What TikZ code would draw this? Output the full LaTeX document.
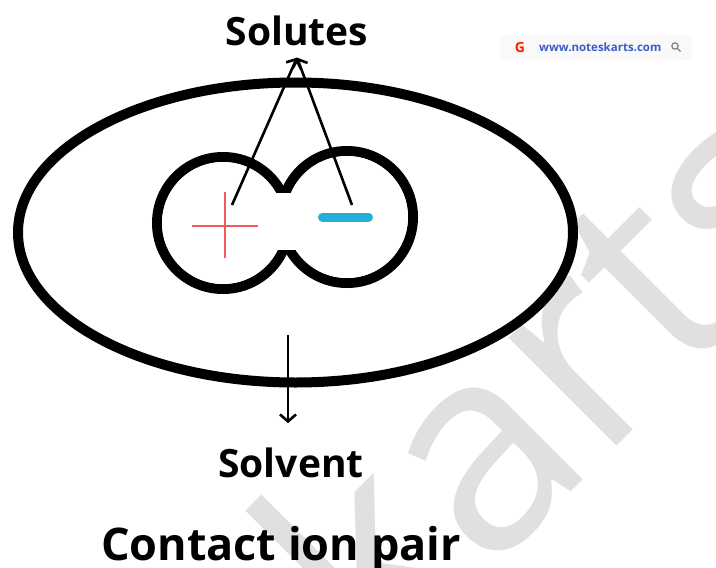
\documentclass[tikz,border=0pt]{standalone}
\usepackage{fontspec}
\setmainfont{Open Sans}
\usetikzlibrary{arrows.meta}

\definecolor{plusred}{HTML}{F05A5A}
\definecolor{minuscyan}{HTML}{22B0D8}
\definecolor{markgray}{HTML}{E0E0E0}
\definecolor{linkblue}{HTML}{3A5CC8}

\begin{document}
\begin{tikzpicture}[x=1pt, y=-1pt, every node/.style={inner sep=0pt}, >={Straight Barb[length=7pt, width=16pt]}]
	\useasboundingbox (0,0) rectangle (716,568);
	% watermark
	\node[markgray, rotate=45, font=\fontsize{285}{285}\selectfont] (mark) at (540,372) {karts};
	\fill[gray!5, rounded corners=6pt] (500,35) rectangle (692,60);
	\node[font=\bfseries\fontsize{14}{14}\selectfont, text=red!75!orange] (gee) at (520,47) {G};
	\node[font=\bfseries\fontsize{11.5}{11.5}\selectfont, text=linkblue, anchor=west] (site) at (539,47) {www.noteskarts.com};
	\draw[gray, line width=1.2pt] (675,46) circle (3.2) (677.5,48.5) -- (680.5,51.5);
	% solvent shell and the ion pair
	\draw[line width=10pt] (295.5,232.5) ellipse [x radius=277.5, y radius=150];
	\draw[line width=10pt] (223,223) circle (66) (347,217) circle (66);
	\fill[white] (223,223) circle (61) (347,217) circle (61);
	\fill[white] (265,193) rectangle (301,250);
	\draw[plusred, line width=1.8pt] (192,226) -- (258,226) (225,192) -- (225,258);
	\draw[minuscyan, line width=9pt, line cap=round] (322.5,217) -- (368.5,217);
	% labels
	\node[font=\bfseries\fontsize{39}{39}\selectfont, anchor=base] (solutes) at (297,45) {Solutes};
	\node[font=\bfseries\fontsize{39}{39}\selectfont, anchor=base] (solvent) at (291,477) {Solvent};
	\node[font=\bfseries\fontsize{45}{45}\selectfont, anchor=base] (title) at (281,560) {Contact ion pair};
	% arrows
	\coordinate (plus) at (232,205);
	\coordinate (minus) at (352,205);
	\coordinate (inside) at (288,335);
	\draw[->, line width=2.6pt] (plus) -- ([yshift=-12pt]solutes.south);
	\draw[->, line width=2.6pt] (minus) -- ([yshift=-12pt]solutes.south);
	\draw[->, line width=2.6pt, shorten >=24pt] (inside) -- (inside |- solvent.north);
\end{tikzpicture}
\end{document}
